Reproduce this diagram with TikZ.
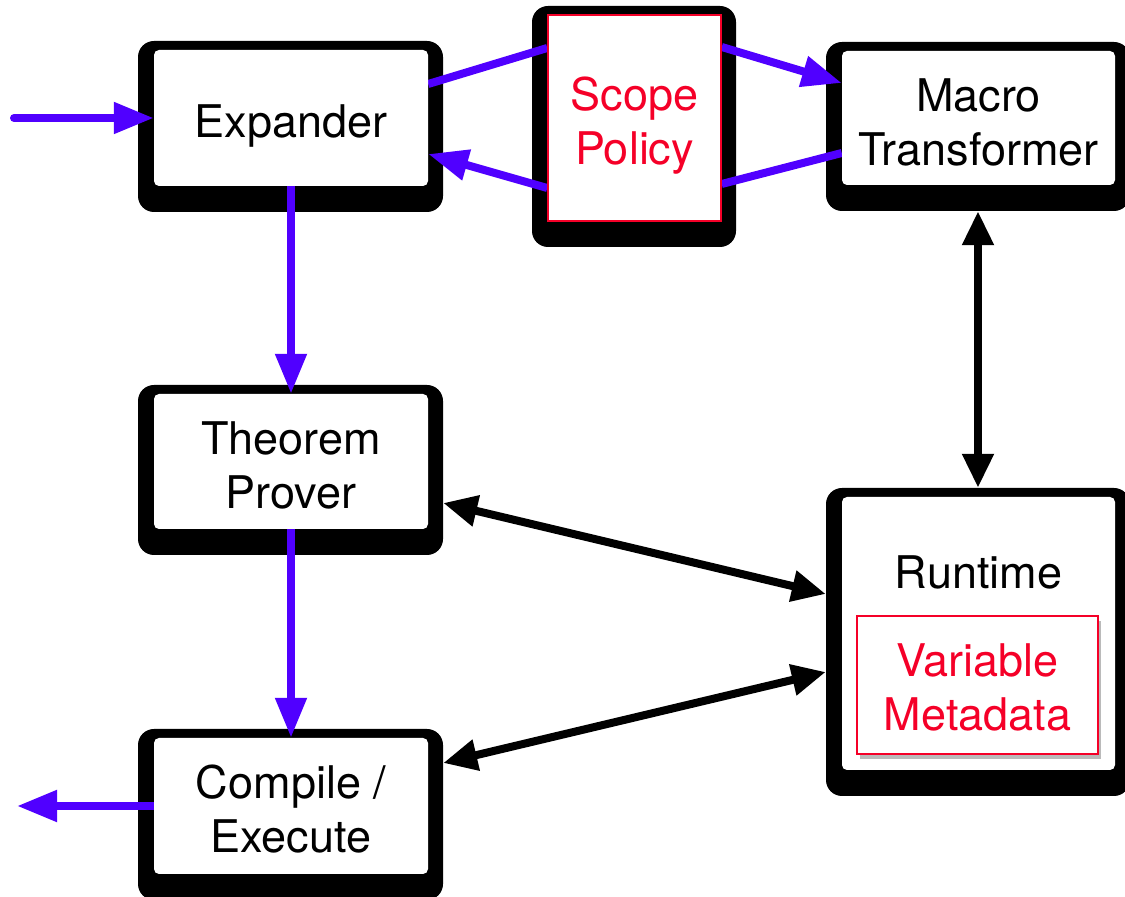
\documentclass[tikz,border=0pt]{standalone}
\usepackage{fontspec}
\setmainfont{TeX Gyre Heros}
\usetikzlibrary{arrows.meta,shadows,calc}
\definecolor{myblue}{RGB}{80,0,255}
\definecolor{myred}{RGB}{245,0,40}
\pgfdeclarelayer{bg}
\pgfdeclarelayer{mid}
\pgfsetlayers{bg,mid,main}
\tikzset{
  outbox/.style={fill=black, draw=none, rounded corners=16pt, inner sep=0pt},
  inbox/.style={fill=white, draw=none, rounded corners=5pt, inner sep=0pt},
  redbox/.style={fill=white, draw=myred, line width=1.5pt, inner sep=0pt},
  lbl/.style={inner sep=0pt, align=center, font=\fontsize{45}{54}\selectfont},
  redlbl/.style={lbl, text=myred},
  barrow/.style={draw=myblue, line width=8pt, -{Triangle[length=40pt,width=30pt]}},
  bline/.style={draw=myblue, line width=8pt},
  karrow/.style={draw=black, line width=8pt, {Triangle[length=34pt,width=30pt]}-{Triangle[length=34pt,width=30pt]}},
}
% name, cx, cy, w, h, text, box style, label style, text shift down
\newcommand\drawunit[9]{%
  \begin{pgfonlayer}{bg}
    \node[outbox, minimum width=#4pt+31pt, minimum height=#5pt+35pt] (#1-o) at (#2-0.5, #3-8.5) {};
  \end{pgfonlayer}
  \node[#7, minimum width=#4pt, minimum height=#5pt] (#1) at (#2,#3) {};
  \node[#8] (#1-t) at (#2,#3-#9) {#6};
}
\begin{document}
\begin{tikzpicture}[x=1pt,y=1pt]
\useasboundingbox (0,0) rectangle (1125,897);
\drawunit{exp}{291}{779}{274}{136}{Expander}{inbox}{lbl}{8}
\drawunit{thm}{291}{435.5}{274}{135}{Theorem\\Prover}{inbox}{lbl}{4}
\drawunit{cmp}{291}{91}{274}{136}{Compile /\\Execute}{inbox}{lbl}{3}
\drawunit{mac}{978.5}{779}{273}{134}{Macro\\Transformer}{inbox}{lbl}{4}
\drawunit{rt}{978.5}{263.5}{273}{273}{}{inbox}{lbl}{0}
\drawunit{scp}{634.5}{779}{173}{206}{Scope\\Policy}{redbox}{redlbl}{8}
\node[lbl] (rtl) at (978.5,325) {Runtime};
\node[redbox, minimum width=241pt, minimum height=138pt,
  drop shadow={shadow xshift=3pt, shadow yshift=-5pt, opacity=0.45, fill=black!60}]
  (var) at (977.5,212) {};
\node[redlbl] (var-t) at (977.5,210) {Variable\\Metadata};
\coordinate (inS) at (14,779);
\coordinate (outE) at (17,91);
\begin{pgfonlayer}{mid}
  \draw[barrow, line cap=round] (inS) -- (exp.west);
  \draw[bline] ([yshift=34]exp.east) -- ([yshift=70]scp.west);
  \draw[barrow] ([yshift=71]scp.east) -- ([yshift=35]mac.west);
  \draw[bline] ([yshift=-35]mac.west) -- ([yshift=-66]scp.east);
  \draw[barrow] ([yshift=-70]scp.west) -- ([yshift=-36]exp.east);
  \draw[barrow] (exp.south) -- (thm.north);
  \draw[barrow] (thm.south) -- (cmp.north);
  \draw[barrow] (cmp.west) -- (outE);
  \draw[karrow] (mac-o.south) -- (rt-o.north);
  \draw[karrow] ([yshift=-33]thm-o.east) -- ([yshift=48]rt-o.west);
  \draw[karrow] ([yshift=51.5]cmp-o.east) -- ([yshift=-30]rt-o.west);
\end{pgfonlayer}
\end{tikzpicture}
\end{document}
